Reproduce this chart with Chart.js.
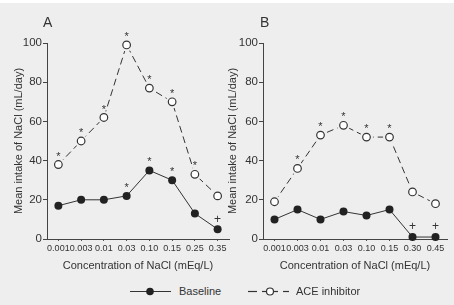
<!DOCTYPE html>
<html>
<head>
<meta charset="utf-8">
<script src="https://cdn.jsdelivr.net/npm/chart.js@4.4.1/dist/chart.umd.min.js"></script>
<style>
  html, body { margin: 0; padding: 0; }
  body { width: 454px; height: 305px; background: #eeeeee; position: relative; overflow: hidden;
         font-family: "Liberation Sans", Arial, sans-serif; color: #333; }
  .strip { position: absolute; left: 0; top: 0; width: 454px; height: 3px; background: #fff; }
  canvas { position: absolute; top: 0; }
  .panel { position: absolute; top: 14px; font-size: 14px; color: #333; }
  .leg { position: absolute; top: 284px; font-size: 11px; line-height: 14px; color: #333; }
  svg { position: absolute; }
</style>
</head>
<body>
<div class="strip"></div>
<canvas id="chartA" width="240" height="280" style="left:0px"></canvas>
<canvas id="chartB" width="238" height="280" style="left:216px"></canvas>
<div class="panel" style="left:43px">A</div>
<div class="panel" style="left:260px">B</div>

<svg style="left:130px;top:286px" width="42" height="11">
  <line x1="0" y1="5.5" x2="41" y2="5.5" stroke="#333" stroke-width="1.2"/>
  <circle cx="20" cy="5.5" r="3.8" fill="#222"/>
</svg>
<span class="leg" style="left:179px">Baseline</span>
<svg style="left:248px;top:286px" width="42" height="11">
  <line x1="0" y1="5.5" x2="9" y2="5.5" stroke="#333" stroke-width="1.2"/>
  <line x1="14" y1="5.5" x2="18" y2="5.5" stroke="#333" stroke-width="1.2"/>
  <circle cx="22" cy="5.5" r="3.5" fill="#fff" stroke="#333" stroke-width="1.2"/>
  <line x1="26" y1="5.5" x2="30" y2="5.5" stroke="#333" stroke-width="1.2"/>
  <line x1="35" y1="5.5" x2="41" y2="5.5" stroke="#333" stroke-width="1.2"/>
</svg>
<span class="leg" style="left:296px">ACE inhibitor</span>

<script>
// panel A
var concA = ['0.001', '0.003', '0.01', '0.03', '0.10', '0.15', '0.25', '0.35'];
var baseA = [17, 20, 20, 22, 35, 30, 13, 5];
var aceA = [38, 50, 62, 99, 77, 70, 33, 22];
var baseMarksA = ['', '', '', '*', '*', '*', '', '+'];
var aceMarksA = ['*', '*', '*', '*', '*', '*', '*', ''];

// panel B
var concB = ['0.001', '0.003', '0.01', '0.03', '0.10', '0.15', '0.30', '0.45'];
var baseB = [10, 15, 10, 14, 12, 15, 1, 1];
var aceB = [19, 36, 53, 58, 52, 52, 24, 18];
var baseMarksB = ['', '', '', '', '', '', '+', '+'];
var aceMarksB = ['', '*', '*', '*', '*', '*', '', ''];

var yTicks = [0, 20, 40, 60, 80, 100];

var bg = '#eeeeee';
var ink = '#333333';

// asterisks / crosses above points, and a gap round the hollow markers
var marksPlugin = {
    id: 'marks',
    afterDatasetsDraw: function(chart) {
        var ctx = chart.ctx;
        chart.data.datasets.forEach(function(ds, i) {
            var meta = chart.getDatasetMeta(i);
            if (ds.halo) {
                meta.data.forEach(function(p) {
                    ctx.save();
                    ctx.fillStyle = bg;
                    ctx.beginPath();
                    ctx.arc(p.x, p.y, 6.5, 0, Math.PI * 2);
                    ctx.fill();
                    ctx.restore();
                    p.draw(ctx, chart.chartArea);
                });
            }
            if (!ds.marks) return;
            ds.marks.forEach(function(m, j) {
                if (!m) return;
                var p = meta.data[j];
                ctx.save();
                ctx.fillStyle = ink;
                ctx.textAlign = 'center';
                ctx.textBaseline = 'middle';
                if (m === '*') {
                    ctx.font = '11px "Liberation Sans", Arial, sans-serif';
                    ctx.fillText(m, p.x, p.y - 8);
                } else {
                    ctx.font = '12px "Liberation Sans", Arial, sans-serif';
                    ctx.fillText(m, p.x, p.y - 10);
                }
                ctx.restore();
            });
        });
    }
};

function makeChart(id, labels, base, ace, baseMarks, aceMarks, padRight, titlePad) {
    var ctx = document.getElementById(id).getContext('2d');
    return new Chart(ctx, {
        type: 'line',
        data: {
            labels: labels,
            datasets: [{
                label: 'Baseline',
                data: base,
                marks: baseMarks,
                borderColor: ink,
                borderWidth: 1,
                backgroundColor: '#222',
                pointBackgroundColor: '#222',
                pointBorderColor: '#222',
                pointRadius: 4,
                pointBorderWidth: 0,
                tension: 0,
                clip: false
            },
            {
                label: 'ACE inhibitor',
                data: ace,
                marks: aceMarks,
                halo: true,
                borderColor: ink,
                borderWidth: 1,
                borderDash: [7, 4],
                pointBackgroundColor: '#fff',
                pointBorderColor: ink,
                pointRadius: 3.8,
                pointBorderWidth: 1.2,
                tension: 0,
                clip: false
            }]
        },
        options: {
            responsive: false,
            animation: false,
            events: [],
            layout: { padding: { top: 43, right: padRight, left: 0, bottom: 0 } },
            plugins: {
                legend: { display: false },
                tooltip: { enabled: false }
            },
            scales: {
                x: {
                    type: 'category',
                    offset: true,
                    grid: { drawOnChartArea: false, drawTicks: true, tickLength: 2, offset: false, color: '#555' },
                    border: { color: '#444', width: 1 },
                    ticks: {
                        color: ink,
                        font: { family: '"Liberation Sans", Arial, sans-serif', size: 9 },
                        padding: 2,
                        maxRotation: 0,
                        autoSkip: false
                    },
                    title: {
                        display: true,
                        text: 'Concentration of NaCl (mEq/L)',
                        color: ink,
                        font: { family: '"Liberation Sans", Arial, sans-serif', size: 11 },
                        padding: { top: 0, bottom: 7 }
                    },
                    afterFit: function(s) { s.height = 41; }
                },
                y: {
                    min: 0,
                    max: 100,
                    afterBuildTicks: function(s) {
                        s.ticks = yTicks.map(function(v) { return { value: v }; });
                    },
                    grid: { drawOnChartArea: false, drawTicks: true, tickLength: 4, color: '#444' },
                    border: { color: '#444', width: 1 },
                    ticks: {
                        color: ink,
                        font: { family: '"Liberation Sans", Arial, sans-serif', size: 11.5 },
                        padding: 1
                    },
                    title: {
                        display: true,
                        text: 'Mean intake of NaCl (mL/day)',
                        color: ink,
                        font: { family: '"Liberation Sans", Arial, sans-serif', size: 11 },
                        padding: { top: titlePad, bottom: 0 }
                    },
                    afterFit: function(s) { s.width = 47; }
                }
            }
        },
        plugins: [marksPlugin]
    });
}

makeChart('chartA', concA, baseA, aceA, baseMarksA, aceMarksA, 11, 12);
makeChart('chartB', concB, baseB, aceB, baseMarksB, aceMarksB, 7, 10.5);
</script>
</body>
</html>
